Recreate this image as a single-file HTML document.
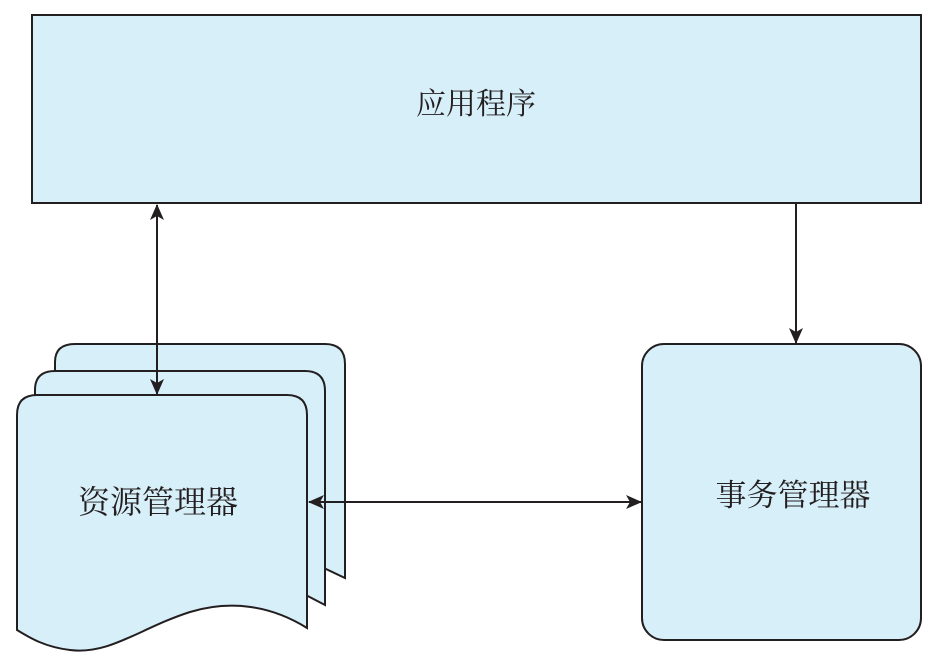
<!DOCTYPE html>
<html><head><meta charset="utf-8"><style>
html,body{margin:0;padding:0;background:#fff;}
svg{display:block;}
text{font-family:"Liberation Serif","Noto Serif CJK SC",serif;fill:#231f20;}
</style></head><body>
<svg width="939" height="665" viewBox="0 0 939 665" xmlns="http://www.w3.org/2000/svg">
<defs>
<marker id="a" markerWidth="10" markerHeight="10" refX="9" refY="5" orient="auto-start-reverse" markerUnits="userSpaceOnUse" viewBox="0 0 10 10">
<path d="M0,0 L10,5 L0,10 L3,5 Z" fill="#231f20" transform="scale(1)"/>
</marker>
<marker id="b" markerWidth="16" markerHeight="14" refX="15" refY="7" orient="auto-start-reverse" markerUnits="userSpaceOnUse">
<path d="M0,0 L16,7 L0,14 L4,7 Z" fill="#231f20"/>
</marker>
</defs>
<rect x="32" y="15" width="889" height="188" fill="#d7eff9" stroke="#231f20" stroke-width="2"/>
<text x="476" y="114" font-size="30" text-anchor="middle">应用程序</text>

<rect x="642" y="344" width="279" height="296" rx="22" fill="#d7eff9" stroke="#231f20" stroke-width="2"/>
<text x="793" y="506" font-size="31" text-anchor="middle">事务管理器</text>

<!-- back page -->
<path d="M55,372 L55,362 Q55,344 75,344 L325,344 Q345,344 345,364 L345,578 L307,560 L55,560 Z" fill="#d7eff9" stroke="#231f20" stroke-width="2"/>
<!-- middle page -->
<path d="M35,395 L35,390 Q35,371 55,371 L305,371 Q325,371 325,391 L325,605 L300,592 L35,590 Z" fill="#d7eff9" stroke="#231f20" stroke-width="2"/>
<!-- front page -->
<path d="M17,630 L17,415 Q17,395 37,395 L287,395 Q307,395 307,415 L307,628 C270,605 230,600 190,612 C140,628 110,655 70,650 C45,647 30,638 17,630 Z" fill="#d7eff9" stroke="#231f20" stroke-width="2"/>
<text x="158" y="513" font-size="32" text-anchor="middle">资源管理器</text>

<line x1="157" y1="205" x2="157" y2="394" stroke="#231f20" stroke-width="2" marker-start="url(#b)" marker-end="url(#b)"/>
<line x1="796" y1="203" x2="796" y2="343" stroke="#231f20" stroke-width="2" marker-end="url(#b)"/>
<line x1="309" y1="502" x2="641" y2="502" stroke="#231f20" stroke-width="2" marker-start="url(#b)" marker-end="url(#b)"/>
</svg>
</body></html>
